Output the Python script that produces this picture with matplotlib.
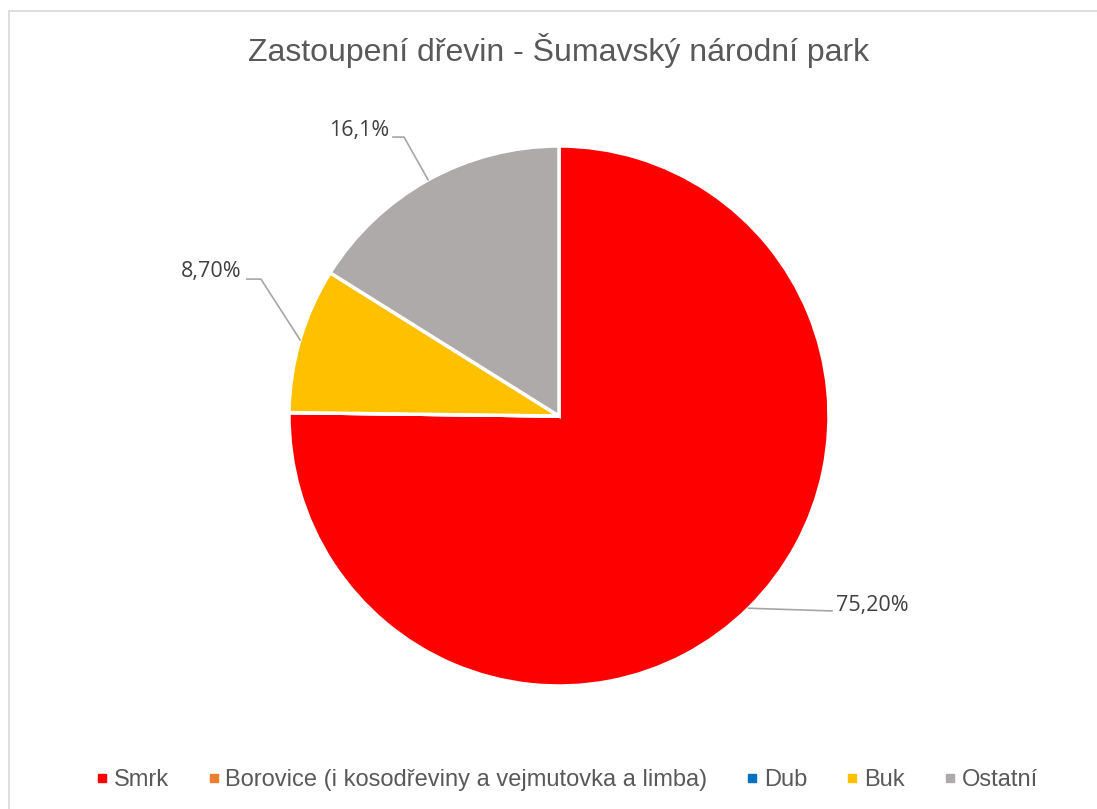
import matplotlib.pyplot as plt
from matplotlib.lines import Line2D
from matplotlib.patches import Rectangle

# Podíl dřevin
druhy = ['Smrk', 'Borovice (i kosodřeviny a vejmutovka a limba)', 'Dub', 'Buk', 'Ostatní']
podily = [75.2, 0.0, 0.0, 8.7, 16.1]
popisky = ['75,20%', '', '', '8,70%', '16,1%']
barvy = ['#FF0000', '#ED7D31', '#0070C0', '#FFC000', '#AEAAAA']

W, H = 1097, 809
fig = plt.figure(figsize=(W / 100, H / 100), dpi=100)

# rámeček grafu
fig.patches.append(Rectangle((9 / W, -0.01), 1.02, 1 - 11 / H + 0.01, transform=fig.transFigure,
                             fill=False, edgecolor='#D9D9D9', linewidth=1.2))

fig.text(559 / W, 1 - 51 / H, 'Zastoupení dřevin - Šumavský národní park', ha='center', va='center',
         fontsize=23, color='#595959', family='Liberation Sans')

cx, cy, r = 559, 416, 270
ax = fig.add_axes([(cx - r) / W, (H - cy - r) / H, 2 * r / W, 2 * r / H])
ax.pie(podily, colors=barvy, startangle=90, counterclock=False, radius=1,
       wedgeprops=dict(edgecolor='white', linewidth=2.5))
ax.set_xlim(-1, 1)
ax.set_ylim(-1, 1)
ax.axis('off')

# vodící čáry k popiskům (ruční umístění jako v Excelu)
car = dict(color='#A6A6A6', linewidth=1.2, clip_on=False)
pis = dict(fontsize=15.5, color='#404040', family='Open Sans', va='center')
ax.plot([-0.615, -0.574, -0.485], [1.033, 1.033, 0.875], **car)
ax.text(-0.63, 1.056, popisky[4], ha='right', **pis)
ax.plot([-1.156, -1.104, -0.959], [0.507, 0.507, 0.282], **car)
ax.text(-1.175, 0.537, popisky[3], ha='right', **pis)
ax.plot([0.702, 1.011], [-0.712, -0.722], **car)
ax.text(1.025, -0.703, popisky[0], ha='left', **pis)

handles = [Line2D([], [], marker='s', linestyle='', color=c, markersize=6) for c in barvy]
leg = fig.legend(handles, druhy, loc='center', bbox_to_anchor=(565 / W, 1 - 780 / H), ncol=5,
                 frameon=False, handletextpad=0.1, columnspacing=1.5, handlelength=0.8,
                 prop={'family': 'Liberation Sans', 'size': 17})
for t in leg.get_texts():
    t.set_color('#595959')

fig.savefig('out.png', dpi=100)
